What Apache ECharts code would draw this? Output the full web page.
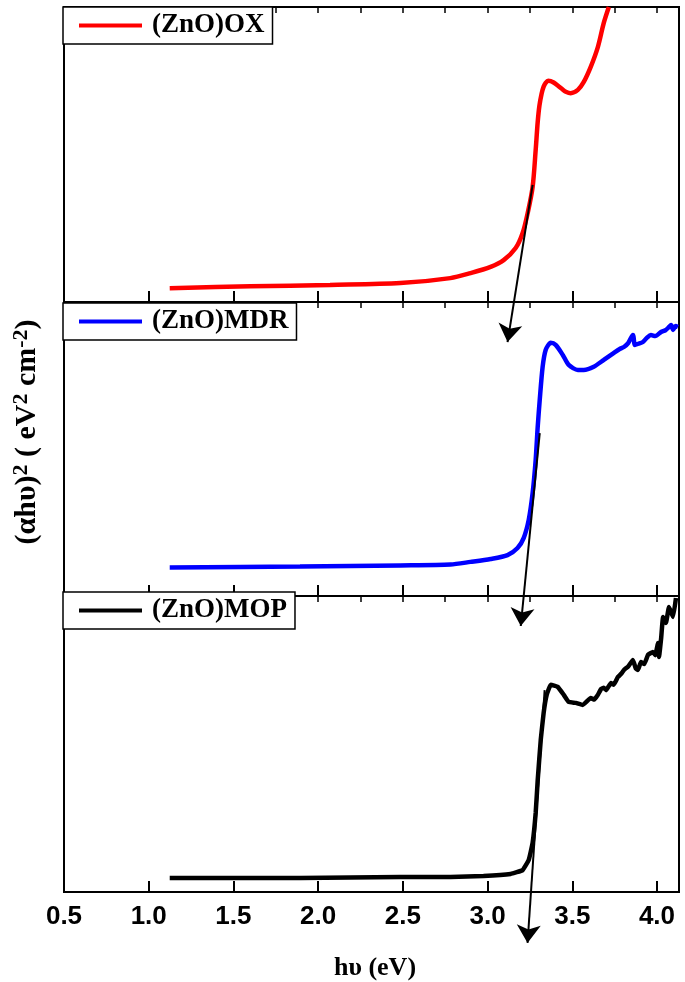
<!DOCTYPE html>
<html>
<head>
<meta charset="utf-8">
<script src="https://cdn.jsdelivr.net/npm/echarts@6/dist/echarts.min.js"></script>
<style>
  html, body { margin: 0; padding: 0; background: #fff; }
  #main { width: 685px; height: 982px; }
</style>
</head>
<body>
<div id="main"></div>
<script>
// x ticks
var xTicks = [0.5, 1.0, 1.5, 2.0, 2.5, 3.0, 3.5, 4.0]

// (ZnO)OX - top panel (arbitrary units 0..100)
var oxX = [1.124, 1.6, 2.07, 2.485, 2.78, 2.90, 3.018, 3.095, 3.166, 3.207, 3.237, 3.266, 3.284, 3.296, 3.306, 3.319, 3.331, 3.343, 3.358, 3.373, 3.39, 3.414, 3.44, 3.462, 3.491, 3.533, 3.568, 3.609, 3.651, 3.686, 3.716]
var oxY = [4.7, 5.3, 5.8, 6.4, 8.1, 9.8, 11.9, 14.2, 18.3, 23.4, 30.2, 39.0, 51.5, 61.0, 66.5, 70.6, 73.0, 74.3, 75.0, 74.9, 74.4, 73.4, 72.2, 71.3, 70.8, 71.9, 74.6, 79.7, 86.4, 94.6, 100]

// (ZnO)MDR - middle panel
var mdrX = [1.124, 1.893, 2.485, 2.781, 2.899, 3.018, 3.118, 3.177, 3.213, 3.243, 3.266, 3.284, 3.296, 3.308, 3.325, 3.343, 3.373, 3.402, 3.444, 3.479, 3.533, 3.568, 3.627, 3.686, 3.746, 3.78, 3.805, 3.83, 3.858, 3.870, 3.89, 3.917, 3.94, 3.964, 3.99, 4.024, 4.05, 4.071, 4.083, 4.095, 4.11, 4.124]
var mdrY = [9.7, 10.0, 10.4, 10.7, 11.6, 12.6, 13.9, 16.3, 19.7, 25.9, 35.0, 46.3, 57.5, 66.7, 77.9, 83.7, 86.1, 85.4, 82.0, 78.6, 76.9, 76.9, 78.0, 80.3, 82.7, 84.0, 84.7, 86.0, 88.8, 85.4, 85.8, 86.4, 87.8, 88.8, 88.4, 89.8, 90.4, 91.5, 92.2, 90.5, 91.8, 91.5]

// (ZnO)MOP - bottom panel
var mopX = [1.124, 1.893, 2.485, 2.781, 2.976, 3.136, 3.207, 3.243, 3.266, 3.284, 3.296, 3.314, 3.331, 3.349, 3.373, 3.414, 3.450, 3.479, 3.521, 3.562, 3.609, 3.63, 3.651, 3.67, 3.686, 3.70, 3.728, 3.745, 3.769, 3.79, 3.805, 3.83, 3.858, 3.875, 3.888, 3.905, 3.925, 3.947, 3.976, 3.99, 4.006, 4.012, 4.025, 4.036, 4.053, 4.071, 4.095, 4.112]
var mopY = [4.7, 4.7, 5.1, 5.1, 5.4, 6.1, 7.4, 10.8, 16.6, 26.7, 37.8, 51.4, 60.5, 66.6, 70.0, 69.3, 66.6, 64.2, 63.9, 63.2, 65.5, 65.0, 66.6, 68.6, 69.0, 68.2, 70.6, 70.0, 72.6, 73.8, 75.0, 76.2, 78.4, 75.5, 75.0, 77.7, 77.0, 80.1, 81.1, 80.0, 84.1, 79.4, 86.0, 92.9, 90.9, 96.3, 92.9, 99.3]

// tangent (extrapolation) lines, start and arrow end
var tanOX = [[3.266, 39.7], [3.118, -13.6]]
var tanMDR = [[3.308, 55.4], [3.196, -10.2]]
var tanMOP = [[3.337, 68.2], [3.236, -17.2]]

function zip (xs, ys) {
  return xs.map(function (x, i) { return [x, ys[i]] })
}

var grids = [
  {left: 64, right: 6, top: 7, height: 295},
  {left: 64, right: 6, top: 302, height: 294},
  {left: 64, right: 6, top: 596, height: 296}
]

var xAxes = []
var yAxes = []
grids.forEach(function (g, i) {
  g.show = true
  g.borderColor = '#000'
  g.borderWidth = 2
  g.backgroundColor = 'transparent'
  // major ticks + labels
  xAxes.push({
    type: 'value', gridIndex: i, min: 0.5, max: 4.13, interval: 0.5,
    axisLine: {show: true, lineStyle: {color: '#000', width: 2}},
    axisTick: {show: true, inside: true, length: 11, lineStyle: {color: '#000', width: 2}},
    splitLine: {show: false},
    axisLabel: {
      show: i === 2, showMaxLabel: false, margin: 12,
      color: '#000', fontFamily: 'Liberation Sans', fontWeight: 'bold', fontSize: 26,
      formatter: function (v) { return xTicks.indexOf(v) >= 0 ? v.toFixed(1) : '' }
    }
  })
  // minor ticks
  xAxes.push({
    type: 'value', gridIndex: i, min: 0.5, max: 4.13, interval: 0.25,
    axisLine: {show: false},
    axisTick: {show: true, inside: true, length: 6, lineStyle: {color: '#000', width: 1.5}},
    splitLine: {show: false},
    axisLabel: {show: false}
  })
  yAxes.push({
    type: 'value', gridIndex: i, min: 0, max: 100,
    axisLine: {show: false}, axisTick: {show: false},
    axisLabel: {show: false}, splitLine: {show: false}
  })
})

function curve (name, color, idx, xs, ys, smooth) {
  return {
    name: name, type: 'line', xAxisIndex: idx * 2, yAxisIndex: idx,
    data: zip(xs, ys), symbol: 'none', smooth: smooth,
    color: color, lineStyle: {color: color, width: 4.5}, z: 3
  }
}

function tangent (idx, pts) {
  return {
    type: 'lines', coordinateSystem: 'cartesian2d', xAxisIndex: idx * 2, yAxisIndex: idx,
    clip: false, z: 5,
    symbol: ['none', 'arrow'], symbolSize: [10, 18],
    lineStyle: {color: '#000', width: 2, opacity: 1},
    data: [{coords: pts}]
  }
}

function legend (idx, name, top) {
  return {
    data: [name], left: 63, top: top, orient: 'horizontal',
    icon: 'rect', itemWidth: 63, itemHeight: 4,
    padding: [5, 8, 5, 16],
    borderColor: '#000', borderWidth: 1.5, backgroundColor: '#fff',
    selectedMode: false, z: 10,
    textStyle: {
      color: '#000', fontFamily: 'Liberation Serif', fontWeight: 'bold',
      fontSize: 27, padding: [0, 0, 0, 5]
    }
  }
}

var chart = echarts.init(document.getElementById('main'), null, {renderer: 'canvas'})
chart.setOption({
  backgroundColor: '#fff',
  animation: false,
  grid: grids,
  xAxis: xAxes,
  yAxis: yAxes,
  legend: [
    legend(0, '(ZnO)OX', 7),
    legend(1, '(ZnO)MDR', 303),
    legend(2, '(ZnO)MOP', 592)
  ],
  series: [
    curve('(ZnO)OX', '#ff0000', 0, oxX, oxY, 0.3),
    curve('(ZnO)MDR', '#0000ff', 1, mdrX, mdrY, 0.25),
    curve('(ZnO)MOP', '#000000', 2, mopX, mopY, 0.1),
    tangent(0, tanOX),
    tangent(1, tanMDR),
    tangent(2, tanMOP)
  ],
  graphic: [
    {
      type: 'text', x: 375, y: 968, z: 10,
      style: {
        text: 'hυ (eV)', fill: '#000', font: 'bold 26px "Liberation Serif"',
        align: 'center', verticalAlign: 'middle'
      }
    },
    {
      type: 'text', x: 27, y: 432, rotation: Math.PI / 2, z: 10,
      style: {
        text: '{m|(αhυ)}{s|2}{m| ( eV}{s|2}{m| cm}{s|-2}{m|)}',
        align: 'center', verticalAlign: 'middle', fill: '#000',
        rich: {
          m: {fontFamily: 'Liberation Serif', fontWeight: 'bold', fontSize: 30, lineHeight: 34, fill: '#000'},
          s: {fontFamily: 'Liberation Serif', fontWeight: 'bold', fontSize: 22, lineHeight: 34, verticalAlign: 'top', padding: [0, 0, 14, 0], fill: '#000'}
        }
      }
    }
  ]
})
</script>
</body>
</html>
